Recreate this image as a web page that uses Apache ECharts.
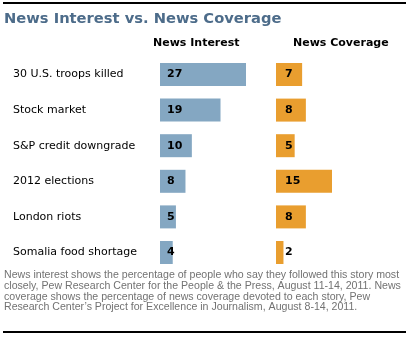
<!DOCTYPE html>
<html>
<head>
<meta charset="utf-8">
<script src="https://cdn.jsdelivr.net/npm/echarts@6/dist/echarts.min.js"></script>
<style>
  html, body { margin: 0; padding: 0; background: #fff; }
  #chart { width: 409px; height: 337px; }
</style>
</head>
<body>
<div id="chart"></div>
<script>
// Stories, top to bottom
const stories = [
  '30 U.S. troops killed',
  'Stock market',
  'S&P credit downgrade',
  '2012 elections',
  'London riots',
  'Somalia food shortage'
];
// Percent who followed the story most closely
const newsInterest = [27, 19, 10, 8, 5, 4];
// Percent of news coverage devoted to the story
const newsCoverage = [7, 8, 5, 15, 8, 2];

const titleText = 'News Interest vs. News Coverage';
const interestHeader = 'News Interest';
const coverageHeader = 'News Coverage';
const noteLines = [
  'News interest shows the percentage of people who say they followed this story most',
  'closely, Pew Research Center for the People & the Press, August 11-14, 2011. News',
  'coverage shows the percentage of news coverage devoted to each story, Pew',
  'Research Center\u2019s Project for Excellence in Journalism, August 8-14, 2011.'
];

const FONT = 'DejaVu Sans';
const chart = echarts.init(document.getElementById('chart'));

const gridTop = 56.7, gridHeight = 213.6;

chart.setOption({
  animation: false,
  textStyle: { fontFamily: FONT },
  grid: [
    { left: 160, top: gridTop, width: 86, height: gridHeight },
    { left: 276, top: gridTop, width: 56, height: gridHeight }
  ],
  xAxis: [
    { gridIndex: 0, type: 'value', min: 0, max: 27, show: false },
    { gridIndex: 1, type: 'value', min: 0, max: 15, show: false }
  ],
  yAxis: [
    {
      gridIndex: 0, type: 'category', data: stories, inverse: true,
      axisLine: { show: false }, axisTick: { show: false }, splitLine: { show: false },
      axisLabel: {
        align: 'left', margin: 147, color: '#000',
        fontFamily: FONT, fontSize: 11
      }
    },
    {
      gridIndex: 1, type: 'category', data: stories, inverse: true,
      axisLine: { show: false }, axisTick: { show: false }, splitLine: { show: false },
      axisLabel: { show: false }
    }
  ],
  series: [
    {
      type: 'bar', xAxisIndex: 0, yAxisIndex: 0, data: newsInterest,
      barWidth: 23, itemStyle: { color: '#84a7c2' },
      label: {
        show: true, position: 'insideLeft', distance: 7,
        color: '#000', fontWeight: 'bold', fontSize: 11, fontFamily: FONT
      }
    },
    {
      type: 'bar', xAxisIndex: 1, yAxisIndex: 1, data: newsCoverage,
      barWidth: 23, itemStyle: { color: '#e99e2f' },
      label: {
        show: true, position: 'insideLeft', distance: 9,
        color: '#000', fontWeight: 'bold', fontSize: 11, fontFamily: FONT
      }
    }
  ],
  graphic: [
    { type: 'rect', shape: { x: 3, y: 2, width: 403, height: 2 }, style: { fill: '#000' } },
    { type: 'rect', shape: { x: 3, y: 331, width: 403, height: 2 }, style: { fill: '#000' } },
    {
      type: 'text', x: 4, y: 19,
      style: { text: titleText, fill: '#4d6c8a', font: 'bold 14.7px "' + FONT + '"', verticalAlign: 'middle' }
    },
    {
      type: 'text', x: 153, y: 43,
      style: { text: interestHeader, fill: '#000', font: 'bold 11px "' + FONT + '"', verticalAlign: 'middle' }
    },
    {
      type: 'text', x: 293, y: 43,
      style: { text: coverageHeader, fill: '#000', font: 'bold 11px "' + FONT + '"', verticalAlign: 'middle' }
    },
    {
      type: 'text', x: 4, y: 270,
      style: {
        text: noteLines.join('\n'), fill: '#727272',
        font: '10.6px "Liberation Sans"', lineHeight: 10.7
      }
    }
  ]
});
</script>
</body>
</html>
